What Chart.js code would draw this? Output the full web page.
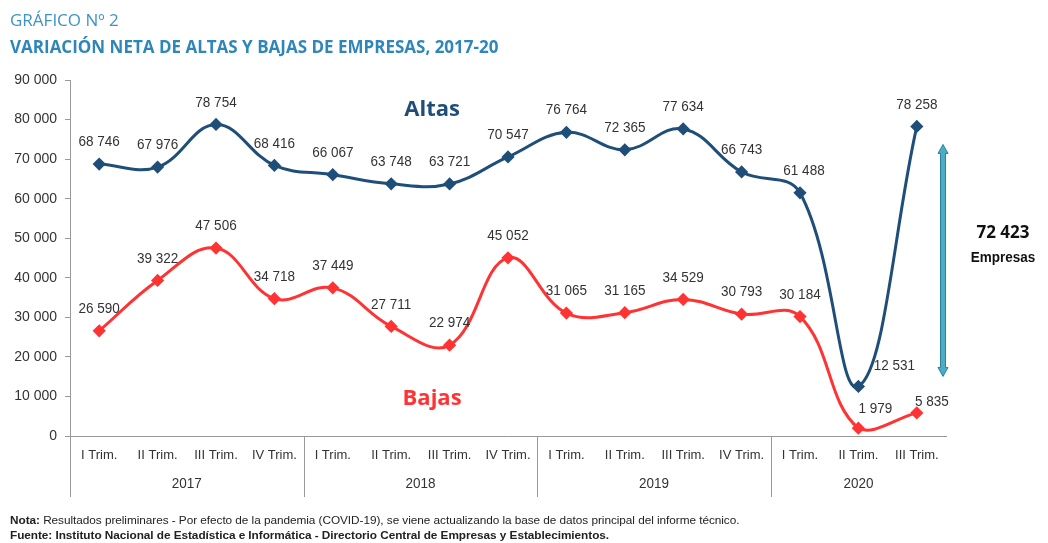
<!DOCTYPE html>
<html>
<head>
<meta charset="utf-8">
<script src="https://cdn.jsdelivr.net/npm/chart.js@4.4.1/dist/chart.umd.min.js"></script>
<style>
  body { margin: 0; background: #fff; }
  #wrap { position: relative; width: 1048px; height: 543px; }
  #grafico { position: absolute; left: 0; top: 0; }
  .tit1 { position: absolute; left: 10px; top: 8px; font: 17px "Open Sans", sans-serif; color: #3f93c4; }
  .tit2 { position: absolute; left: 10px; top: 35px; font: bold 17px "Open Sans", sans-serif; color: #2f86b9; }
  .nota { position: absolute; left: 10px; font: 11.8px "Liberation Sans", sans-serif; color: #222; letter-spacing: -0.05px; }
</style>
</head>
<body>
<div id="wrap">
  <canvas id="grafico" width="1048" height="543"></canvas>
  <div class="tit1">GRÁFICO Nº 2</div>
  <div class="tit2">VARIACIÓN NETA DE ALTAS Y BAJAS DE EMPRESAS, 2017-20</div>
  <div class="nota" style="top:513px"><b>Nota:</b> Resultados preliminares - Por efecto de la pandemia (COVID-19), se viene actualizando la base de datos principal del informe técnico.</div>
  <div class="nota" style="top:528px"><b>Fuente: Instituto Nacional de Estadística e Informática - Directorio Central de Empresas y Establecimientos.</b></div>
</div>
<script>
// datos
var trimestres = ["I Trim.", "II Trim.", "III Trim.", "IV Trim.",
                  "I Trim.", "II Trim.", "III Trim.", "IV Trim.",
                  "I Trim.", "II Trim.", "III Trim.", "IV Trim.",
                  "I Trim.", "II Trim.", "III Trim."];
var anios = ["2017", "2018", "2019", "2020"];
var trimPorAnio = [4, 4, 4, 3];
var altas = [68746, 67976, 78754, 68416, 66067, 63748, 63721, 70547, 76764, 72365, 77634, 66743, 61488, 12531, 78258];
var bajas = [26590, 39322, 47506, 34718, 37449, 27711, 22974, 45052, 31065, 31165, 34529, 30793, 30184, 1979, 5835];
var netoTexto = ["72 423", "Empresas"];

// desplazamiento de etiquetas (solo algunas se mueven)
var offAltas = { 12: [4, -22], 13: [36, -21] };
var offBajas = { 13: [17, -19], 14: [15, -11] };

var AZUL = "#1f4e79";
var ROJO = "#ff3333";
var FAMILIA = '"Liberation Sans", Arial, sans-serif';

function miles(n) {
    return String(n).replace(/\B(?=(\d{3})+(?!\d))/g, " ");
}

// texto algo estrecho, como Arial Narrow
function textoEstrecho(c, t, x, y) {
    c.save();
    c.translate(x, y);
    c.scale(0.9, 1);
    c.fillText(t, 0, 0);
    c.restore();
}

var etiquetas = {
    id: "etiquetas",
    afterDatasetsDraw: function (chart) {
        var c = chart.ctx;
        var x = chart.scales.x, y = chart.scales.y;
        c.save();
        // valores de cada punto
        c.font = "15px " + FAMILIA;
        c.fillStyle = "#333";
        c.textAlign = "center";
        c.textBaseline = "middle";
        [offAltas, offBajas].forEach(function (offs, i) {
            var meta = chart.getDatasetMeta(i);
            var vals = chart.data.datasets[i].data;
            meta.data.forEach(function (p, j) {
                var o = offs[j] || [0, -22];
                textoEstrecho(c, miles(vals[j]), p.x + o[0], p.y + o[1]);
            });
        });

        // nombres de series
        c.font = 'bold 22px "Open Sans", sans-serif';
        c.fillStyle = AZUL;
        c.fillText("Altas", x.getPixelForValue(5.7), y.getPixelForValue(82600));
        c.fillStyle = ROJO;
        c.fillText("Bajas", x.getPixelForValue(5.7), y.getPixelForValue(9400));

        // separadores y etiquetas de año
        var mitad = (x.getPixelForValue(1) - x.getPixelForValue(0)) / 2;
        var ini = 0;
        c.strokeStyle = "#999";
        c.lineWidth = 1;
        c.font = "15px " + FAMILIA;
        c.fillStyle = "#333";
        anios.forEach(function (a, k) {
            var xi = x.getPixelForValue(ini) - mitad;
            var fin = ini + trimPorAnio[k] - 1;
            var xf = x.getPixelForValue(fin) + mitad;
            c.beginPath();
            c.moveTo(Math.round(xi) + 0.5, y.bottom);
            c.lineTo(Math.round(xi) + 0.5, y.bottom + 61);
            c.stroke();
            textoEstrecho(c, a, (xi + xf) / 2, y.bottom + 48);
            ini += trimPorAnio[k];
        });

        // flecha de variación neta
        var ax = x.right - 3;
        var y1 = y.getPixelForValue(altas[14]) + 18;
        var y2 = y.getPixelForValue(altas[13]) - 10;
        c.fillStyle = "#4bacc6";
        c.strokeStyle = "#2f7f95";
        c.lineWidth = 1;
        c.beginPath();
        c.moveTo(ax, y1);
        c.lineTo(ax + 5, y1 + 9);
        c.lineTo(ax + 2.5, y1 + 9);
        c.lineTo(ax + 2.5, y2 - 9);
        c.lineTo(ax + 5, y2 - 9);
        c.lineTo(ax, y2);
        c.lineTo(ax - 5, y2 - 9);
        c.lineTo(ax - 2.5, y2 - 9);
        c.lineTo(ax - 2.5, y1 + 9);
        c.lineTo(ax - 5, y1 + 9);
        c.closePath();
        c.fill();
        c.stroke();

        c.fillStyle = "#111";
        c.font = 'bold 17px "Open Sans", sans-serif';
        c.fillText(netoTexto[0], ax + 60, (y1 + y2) / 2 - 27);
        c.font = "bold 15px " + FAMILIA;
        textoEstrecho(c, netoTexto[1], ax + 60, (y1 + y2) / 2 - 3);
        c.restore();
    }
};

var ctx = document.getElementById("grafico");
var grafico = new Chart(ctx, {
    type: "line",
    data: {
        labels: trimestres,
        datasets: [
            {
                label: "Altas",
                data: altas,
                borderColor: AZUL,
                backgroundColor: AZUL,
                borderWidth: 3,
                pointStyle: "rectRot",
                pointRadius: 4.5,
                tension: 0.4,
                clip: false
            },
            {
                label: "Bajas",
                data: bajas,
                borderColor: ROJO,
                backgroundColor: ROJO,
                borderWidth: 3,
                pointStyle: "rectRot",
                pointRadius: 4.5,
                tension: 0.4,
                clip: false
            }
        ]
    },
    options: {
        responsive: false,
        animation: false,
        events: [],
        layout: { padding: { top: 80, right: 102, bottom: 47, left: 0 } },
        plugins: {
            legend: { display: false },
            tooltip: { enabled: false }
        },
        scales: {
            x: {
                offset: true,
                grid: { display: false },
                border: { color: "#999" },
                ticks: {
                    color: "#333",
                    font: { family: FAMILIA, size: 13 },
                    maxRotation: 0,
                    autoSkip: false,
                    padding: 4
                },
                afterFit: function (s) { s.height = 60; }
            },
            y: {
                min: 0,
                max: 90000,
                border: { color: "#999" },
                grid: { drawOnChartArea: false, color: "#999", tickLength: 5 },
                ticks: {
                    stepSize: 10000,
                    color: "#333",
                    font: { family: FAMILIA, size: 14 },
                    padding: 8,
                    callback: function (v) { return miles(v); }
                },
                afterFit: function (s) { s.width = 70; }
            }
        }
    },
    plugins: [etiquetas]
});
</script>
</body>
</html>
